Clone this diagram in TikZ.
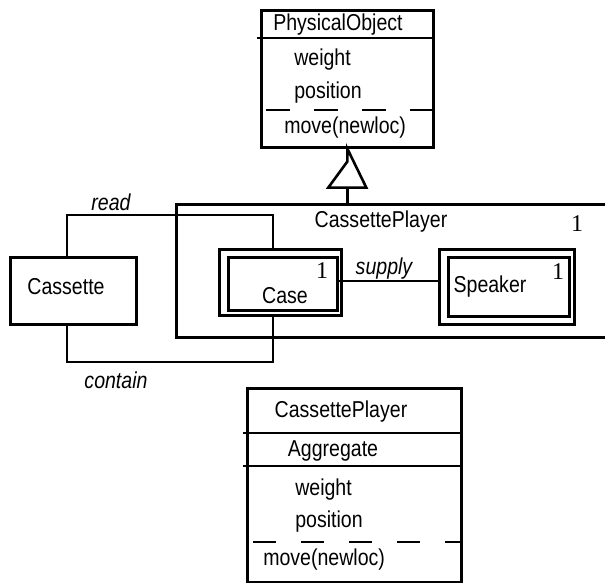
\documentclass[tikz,border=0pt]{standalone}
\usepackage{fontspec}
\setmainfont[FakeStretch=0.85]{Liberation Sans}
\newfontfamily\numfont{Liberation Serif}
\usetikzlibrary{calc}
\begin{document}
\begin{tikzpicture}[x=1pt,y=-1pt,line width=2.6pt,
  box/.style={draw,rectangle,inner sep=0pt,anchor=north west},
  txt/.style={font=\fontsize{23}{26}\selectfont,inner sep=0pt},
  ltxt/.style={txt,anchor=west},
  role/.style={font=\fontsize{23}{26}\selectfont\itshape,inner sep=0pt},
  mult/.style={font=\numfont\fontsize{24}{26}\selectfont,inner sep=0pt},
  opsep/.style={line width=2.6pt,dash pattern=on 24pt off 24pt}]
\useasboundingbox (0,0) rectangle (605,583);

% PhysicalObject class
\node[box,minimum width=172,minimum height=137] (po) at (260,9) {};
\draw (257,38) -- (po.east |- 0,38);
\draw[opsep] (266,110) -- (po.east |- 0,110);
\node[ltxt] (poname) at (272,25) {PhysicalObject};
\node[ltxt] (poweight) at (293,60) {weight};
\node[ltxt] (popos) at (293,93) {position};
\node[ltxt] (pomove) at (283,128) {move(newloc)};

% CassettePlayer aggregate (open on the right)
\node[box,minimum width=440,minimum height=133] (cp) at (175,203) {};
\node[txt] (cpname) at (381,222) {CassettePlayer};
\node[mult] (cpmult) at (577,224) {1};

% generalization triangle
\draw (po.south) -- ++(0,13) coordinate (tip)
      -- ++(-19,26) coordinate (bl) -- ++(38,0) coordinate (br) -- cycle;
\coordinate (base) at ($(bl)!0.5!(br)$);
\draw (base) -- (base |- cp.north);

% Cassette
\node[box,minimum width=126,minimum height=67] (cas) at (9,256) {};
\node[txt] (casname) at (66,287) {Cassette};

% Case (double border)
\node[box,minimum width=122,minimum height=66] (caseo) at (218,248) {};
\node[box,minimum width=109,minimum height=53] (casei) at (227,256) {};
\node[txt] (casename) at (285,296) {Case};
\node[mult] (casemult) at (322,271) {1};

% Speaker (double border)
\node[box,minimum width=135,minimum height=75] (spko) at (438,248) {};
\node[box,minimum width=121,minimum height=59] (spki) at (447,256) {};
\node[txt] (spkname) at (490,287) {Speaker};
\node[mult] (spkmult) at (558,272) {1};

% associations
\draw (casei.east |- 0,281) -- (spko.west |- 0,281);
\node[role] (supply) at (384,269) {supply};

\draw (cas.north -| 67,0) -- (67,215) -- (273,215) -- (caseo.north -| 273,0);
\node[role] (read) at (111,202) {read};
\draw (cas.south -| 67,0) -- (67,362) -- (273,362) -- (caseo.south -| 273,0);
\node[role] (contain) at (116,380) {contain};

% CassettePlayer class with Aggregate stereotype compartment
\node[box,minimum width=214,minimum height=194] (cpc) at (246,387) {};
\draw (243,433) -- (cpc.east |- 0,433);
\draw (243,466) -- (cpc.east |- 0,466);
\draw[opsep,dash pattern=on 23pt off 25pt] (253,542) -- (cpc.east |- 0,542);
\node[txt] (cpcname) at (341,412) {CassettePlayer};
\node[txt] (cpcstereo) at (333,451) {Aggregate};
\node[ltxt] (cpcweight) at (294,490) {weight};
\node[ltxt] (cpcpos) at (294,522) {position};
\node[ltxt] (cpcmove) at (262,560) {move(newloc)};
\end{tikzpicture}
\end{document}
